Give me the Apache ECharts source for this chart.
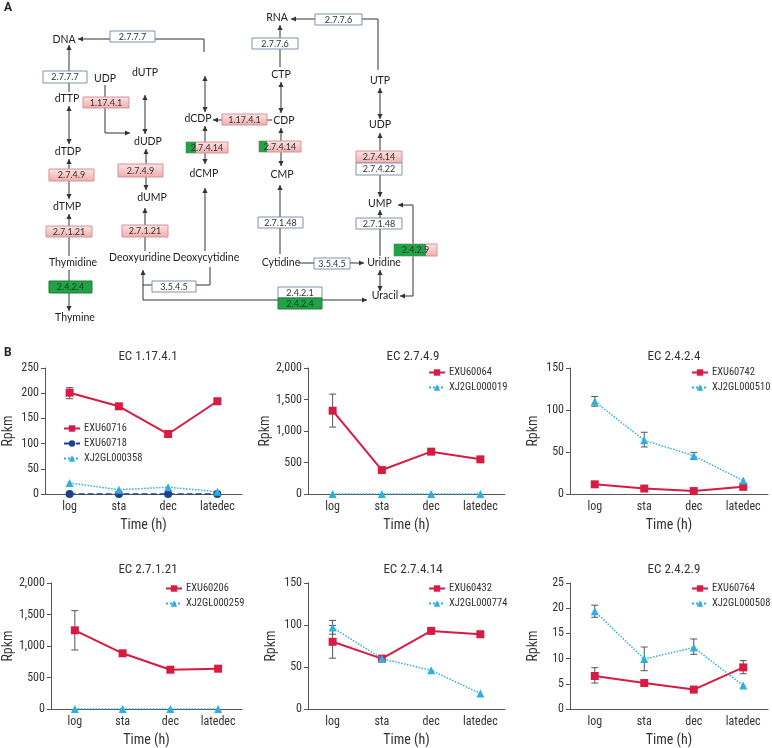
<!DOCTYPE html>
<html><head><meta charset="utf-8">
<script src="https://cdn.jsdelivr.net/npm/echarts@6/dist/echarts.min.js"></script>
<style>html,body{margin:0;padding:0;background:#fff}#c{width:772px;height:748px}</style>
</head><body><div id="c"></div><script>
// ---------------- DATA ----------------
const categories = ['log', 'sta', 'dec', 'latedec'];
const chartTitles = ['EC 1.17.4.1', 'EC 2.7.4.9', 'EC 2.4.2.4', 'EC 2.7.1.21', 'EC 2.7.4.14', 'EC 2.4.2.9'];
const yMax = [250, 2000, 150, 2000, 150, 25];
const yStep = [50, 500, 50, 500, 50, 5];

// EC 1.17.4.1
const ec1_17_4_1_EXU60716 = [201, 174, 119, 184];
const ec1_17_4_1_EXU60716_err = [[189, 211], null, null, null];
const ec1_17_4_1_EXU60718 = [0, 0, 0, 0];
const ec1_17_4_1_XJ2GL000358 = [22, 8.5, 13.5, 4.5];
// EC 2.7.4.9
const ec2_7_4_9_EXU60064 = [1322, 380, 672, 550];
const ec2_7_4_9_EXU60064_err = [[1062, 1585], null, null, null];
const ec2_7_4_9_XJ2GL000019 = [0, 0, 0, 0];
// EC 2.4.2.4
const ec2_4_2_4_EXU60742 = [11.5, 6.5, 3.5, 8.5];
const ec2_4_2_4_XJ2GL000510 = [110, 64, 45.5, 16];
const ec2_4_2_4_XJ2GL000510_err = [[104.5, 116], [56, 73.5], [41, 49.5], null];
// EC 2.7.1.21
const ec2_7_1_21_EXU60206 = [1249, 884, 624, 640];
const ec2_7_1_21_EXU60206_err = [[937, 1561], null, null, null];
const ec2_7_1_21_XJ2GL000259 = [0, 0, 0, 0];
// EC 2.7.4.14
const ec2_7_4_14_EXU60432 = [80, 60, 93, 89];
const ec2_7_4_14_EXU60432_err = [[60.5, 99.5], null, null, [86, 92]];
const ec2_7_4_14_XJ2GL000774 = [97, 60, 46, 18.5];
const ec2_7_4_14_XJ2GL000774_err = [[89, 105.5], null, null, null];
// EC 2.4.2.9
const ec2_4_2_9_EXU60764 = [6.55, 5.15, 3.85, 8.25];
const ec2_4_2_9_EXU60764_err = [[5.15, 8.2], null, null, [7.0, 9.6]];
const ec2_4_2_9_XJ2GL000508 = [19.4, 9.9, 12.2, 4.65];
const ec2_4_2_9_XJ2GL000508_err = [[18.2, 20.6], [7.6, 12.3], [10.85, 13.9], null];

// ---------------- STYLE / LAYOUT ----------------
const RED = '#d81b43', CYAN = '#2bb0e0', NAVY = '#1c3f8f';
const FONT = '"Roboto Condensed", Roboto, sans-serif';
const styles = {
  red:  { color: RED, symbol: 'rect', size: 8, line: { width: 2, type: 'solid' } },
  navy: { color: NAVY, symbol: 'circle', size: 8, line: { width: 1.5, type: 'dashed' } },
  cyan: { color: CYAN, symbol: 'triangle', size: 8, line: { width: 1.5, type: 'dotted' } }
};
const charts = [
  [{ name: 'EXU60716', d: ec1_17_4_1_EXU60716, e: ec1_17_4_1_EXU60716_err, s: 'red' },
   { name: 'EXU60718', d: ec1_17_4_1_EXU60718, s: 'navy' },
   { name: 'XJ2GL000358', d: ec1_17_4_1_XJ2GL000358, s: 'cyan' }],
  [{ name: 'EXU60064', d: ec2_7_4_9_EXU60064, e: ec2_7_4_9_EXU60064_err, s: 'red' },
   { name: 'XJ2GL000019', d: ec2_7_4_9_XJ2GL000019, s: 'cyan' }],
  [{ name: 'EXU60742', d: ec2_4_2_4_EXU60742, s: 'red' },
   { name: 'XJ2GL000510', d: ec2_4_2_4_XJ2GL000510, e: ec2_4_2_4_XJ2GL000510_err, s: 'cyan' }],
  [{ name: 'EXU60206', d: ec2_7_1_21_EXU60206, e: ec2_7_1_21_EXU60206_err, s: 'red' },
   { name: 'XJ2GL000259', d: ec2_7_1_21_XJ2GL000259, s: 'cyan' }],
  [{ name: 'EXU60432', d: ec2_7_4_14_EXU60432, e: ec2_7_4_14_EXU60432_err, s: 'red' },
   { name: 'XJ2GL000774', d: ec2_7_4_14_XJ2GL000774, e: ec2_7_4_14_XJ2GL000774_err, s: 'cyan' }],
  [{ name: 'EXU60764', d: ec2_4_2_9_EXU60764, e: ec2_4_2_9_EXU60764_err, s: 'red' },
   { name: 'XJ2GL000508', d: ec2_4_2_9_XJ2GL000508, e: ec2_4_2_9_XJ2GL000508_err, s: 'cyan' }]
];
const gridLeft = [44, 308, 570, 43, 308, 570];
const gridWidth = [198, 197, 198, 199, 197, 198];
const gridTop = [368, 368, 368, 583, 583, 583];
const gridH = 126;
const titleX = [143, 408, 669, 143, 408, 669];
const titleY = [345, 345, 345, 558, 558, 558];
const legLeft = [63, 428, 691, 165, 428, 691];
const legTop = [423, 367, 367, 583, 583, 583];

// ---------------- PATHWAY DIAGRAM (panel A) ----------------
const G = [];
const LC = '#333';
function arrowHead(x1, y1, x2, y2) {
  const a = Math.atan2(y2 - y1, x2 - x1), L = 5, W = 2.6;
  const bx = x2 - L * Math.cos(a), by = y2 - L * Math.sin(a);
  const px = -Math.sin(a) * W, py = Math.cos(a) * W;
  G.push({ type: 'polygon', shape: { points: [[x2, y2], [bx + px, by + py], [bx - px, by - py]] }, style: { fill: LC }, z: 5 });
}
function path(pts, start, end) {
  G.push({ type: 'polyline', shape: { points: pts }, style: { stroke: LC, lineWidth: 1, fill: null }, z: 4 });
  const n = pts.length;
  if (end) arrowHead(pts[n - 2][0], pts[n - 2][1], pts[n - 1][0], pts[n - 1][1]);
  if (start) arrowHead(pts[1][0], pts[1][1], pts[0][0], pts[0][1]);
}
function node(x, y, s) {
  G.push({ type: 'text', x: x, y: y, style: { text: s, font: '10.5px Lato, "Open Sans", sans-serif', fill: '#222', align: 'center', verticalAlign: 'middle' }, z: 10 });
}
const redFill = { type: 'linear', x: 0, y: 0, x2: 0, y2: 1, colorStops: [{ offset: 0, color: '#fde4e4' }, { offset: 1, color: '#f1abab' }] };
function box(x1, y1, x2, y2, label, kind, gx) {
  const w = x2 - x1, h = y2 - y1;
  let fill = '#fff', stroke = '#7f93ab', tc = '#333';
  if (kind === 'r' || kind === 'm') { fill = redFill; stroke = '#d29595'; }
  if (kind === 'g') { fill = '#22a247'; stroke = '#1a7f37'; tc = '#0f3d1c'; }
  G.push({ type: 'rect', shape: { x: x1, y: y1, width: w, height: h }, style: { fill: fill, stroke: stroke, lineWidth: 1 }, z: 6 });
  if (kind === 'm') {
    G.push({ type: 'rect', shape: { x: x1, y: y1, width: gx - x1, height: h }, style: { fill: '#22a247' }, z: 6 });
  }
  G.push({ type: 'text', x: (x1 + x2) / 2, y: (y1 + y2) / 2 + 0.5, style: { text: label, font: '9px Lato, "Open Sans", sans-serif', fill: tc, align: 'center', verticalAlign: 'middle' }, z: 7 });
}
// connectors
path([[204, 52], [204, 39], [78, 39]], false, true);
path([[69, 92], [69, 45]], false, true);
path([[105, 85], [105, 133], [130, 133]], false, true);
path([[145, 95], [145, 134]], true, true);
path([[69, 106], [69, 144]], true, true);
path([[69, 159], [69, 199]], true, true);
path([[69, 256], [69, 214]], false, true);
path([[69, 270], [69, 311]], false, true);
path([[146, 149], [146, 190]], true, true);
path([[145, 251], [145, 208]], false, true);
path([[205, 76], [205, 112]], true, true);
path([[272, 120], [213, 120]], false, true);
path([[205, 126], [205, 164]], true, true);
path([[205, 251], [205, 188]], false, true);
path([[210, 267], [210, 285], [143, 285], [143, 270]], false, true);
path([[143, 285], [143, 300], [367, 300]], false, true);
path([[378, 70], [378, 19], [291, 19]], false, true);
path([[280, 67], [280, 25]], false, true);
path([[281, 82], [281, 113]], true, true);
path([[281, 128], [281, 166]], true, true);
path([[280, 254], [280, 185]], false, true);
path([[298, 263], [364, 263]], false, true);
path([[380, 88], [380, 119]], true, true);
path([[380, 133], [380, 197]], true, true);
path([[380, 256], [380, 210]], false, true);
path([[380, 270], [380, 291]], true, true);
path([[400, 296], [413, 296], [413, 205], [398, 205]], true, true);
// enzyme boxes
box(110, 31, 155, 42, '2.7.7.7', 'w');
box(43, 71, 87, 83, '2.7.7.7', 'w');
box(83, 97, 129, 108, '1.17.4.1', 'r');
box(49, 169, 94, 181, '2.7.4.9', 'r');
box(46, 226, 92, 237, '2.7.1.21', 'r');
box(49, 281, 92, 293, '2.4.2.4', 'g');
box(118, 164, 163, 177, '2.7.4.9', 'r');
box(122, 225, 168, 237, '2.7.1.21', 'r');
box(152, 281, 196, 292, '3.5.4.5', 'w');
box(222, 114, 267, 125, '1.17.4.1', 'r');
box(186, 142, 228, 153, '2.7.4.14', 'm', 196);
box(315, 14, 362, 25, '2.7.7.6', 'w');
box(252, 38, 298, 49, '2.7.7.6', 'w');
box(259, 141, 301, 152, '2.7.4.14', 'm', 267);
box(258, 217, 303, 228, '2.7.1.48', 'w');
box(314, 258, 350, 269, '3.5.4.5', 'w');
box(356, 151, 402, 163, '2.7.4.14', 'r');
box(356, 163, 402, 175, '2.7.4.22', 'w');
box(356, 218, 402, 229, '2.7.1.48', 'w');
box(394, 244, 437, 256, '2.4.2.9', 'm', 426);
box(278, 287, 322, 298, '2.4.2.1', 'w');
box(278, 298, 322, 309, '2.4.2.4', 'g');
// metabolite labels
[['DNA', 64, 40], ['UDP', 105, 79], ['dUTP', 145, 73], ['dTTP', 67, 99], ['dUDP', 148, 142], ['dTDP', 68, 152],
 ['dTMP', 67, 207], ['dUMP', 152, 198], ['Thymidine', 73, 263], ['Deoxyuridine', 140, 258], ['Deoxycytidine', 206, 258],
 ['Thymine', 75, 318], ['dCDP', 198, 119], ['dCMP', 204, 174], ['RNA', 277, 18], ['CTP', 281, 75], ['CDP', 284, 121],
 ['CMP', 282, 175], ['Cytidine', 281, 263], ['UTP', 380, 81], ['UDP', 380, 125], ['UMP', 380, 204], ['Uridine', 384, 263],
 ['Uracil', 385, 296]].forEach(a => node(a[1], a[2], a[0]));
// panel letters
G.push({ type: 'text', x: 4, y: 8, style: { text: 'A', font: 'bold 12px Roboto, sans-serif', fill: '#222', verticalAlign: 'middle' }, z: 10 });
G.push({ type: 'text', x: 4, y: 353, style: { text: 'B', font: 'bold 12px Roboto, sans-serif', fill: '#222', verticalAlign: 'middle' }, z: 10 });

// ---------------- CHARTS (panel B) ----------------
const grid = [], xAxis = [], yAxis = [], series = [], title = [], legend = [];
function errRender(params, api) {
  const x = api.value(0);
  const p1 = api.coord([x, api.value(1)]), p2 = api.coord([x, api.value(2)]);
  const w = 3.5, st = { stroke: '#555', lineWidth: 1 };
  return { type: 'group', children: [
    { type: 'line', shape: { x1: p1[0], y1: p1[1], x2: p2[0], y2: p2[1] }, style: st },
    { type: 'line', shape: { x1: p1[0] - w, y1: p1[1], x2: p1[0] + w, y2: p1[1] }, style: st },
    { type: 'line', shape: { x1: p2[0] - w, y1: p2[1], x2: p2[0] + w, y2: p2[1] }, style: st }
  ] };
}
charts.forEach((c, i) => {
  grid.push({ left: gridLeft[i], top: gridTop[i], width: gridWidth[i], height: gridH });
  xAxis.push({
    type: 'category', gridIndex: i, data: categories, boundaryGap: true,
    name: 'Time (h)', nameLocation: 'middle', nameGap: 24,
    nameTextStyle: { fontFamily: FONT, fontSize: 14, color: '#333' },
    axisLine: { lineStyle: { color: '#555' } }, axisTick: { show: false },
    axisLabel: { fontFamily: FONT, fontSize: 12, color: '#333', margin: 7 }
  });
  yAxis.push({
    type: 'value', gridIndex: i, min: 0, max: yMax[i], interval: yStep[i],
    name: 'Rpkm', nameLocation: 'middle', nameGap: 30, nameRotate: 90,
    nameTextStyle: { fontFamily: FONT, fontSize: 14, color: '#333' },
    axisLine: { show: true, lineStyle: { color: '#555' } },
    axisTick: { show: true, length: 4, lineStyle: { color: '#555' } },
    splitLine: { show: false },
    axisLabel: { fontFamily: FONT, fontSize: 12, color: '#333', margin: 6,
      formatter: v => v.toLocaleString('en-US') }
  });
  title.push({ text: chartTitles[i], left: titleX[i], top: titleY[i], textAlign: 'center',
    textStyle: { fontFamily: FONT, fontSize: 13, fontWeight: 'normal', color: '#333' } });
  legend.push({ data: c.map(s => s.name), left: legLeft[i], top: legTop[i], orient: 'vertical',
    itemWidth: 16, itemHeight: 8, itemGap: 4, padding: 0,
    textStyle: { fontFamily: FONT, fontSize: 10.5, color: '#333', padding: [0, 0, 0, -1] } });
  c.forEach((s, k) => {
    const st = styles[s.s];
    if (s.e) {
      series.push({ type: 'custom', xAxisIndex: i, yAxisIndex: i, renderItem: errRender, z: 1, silent: true,
        data: s.e.map((e, j) => e ? [j, e[0], e[1]] : null).filter(Boolean) });
    }
    series.push({ type: 'line', name: s.name, xAxisIndex: i, yAxisIndex: i, data: s.d,
      symbol: st.symbol, symbolSize: st.size, showAllSymbol: true,
      itemStyle: { color: st.color }, lineStyle: { color: st.color, width: st.line.width, type: st.line.type },
      z: s.s === 'red' ? 3 : 4, animation: false });
  });
});

const chart = echarts.init(document.getElementById('c'), null, { renderer: 'canvas' });
chart.setOption({
  animation: false, backgroundColor: '#fff',
  title, legend, grid, xAxis, yAxis, series,
  graphic: { elements: G }
});
</script></body></html>
